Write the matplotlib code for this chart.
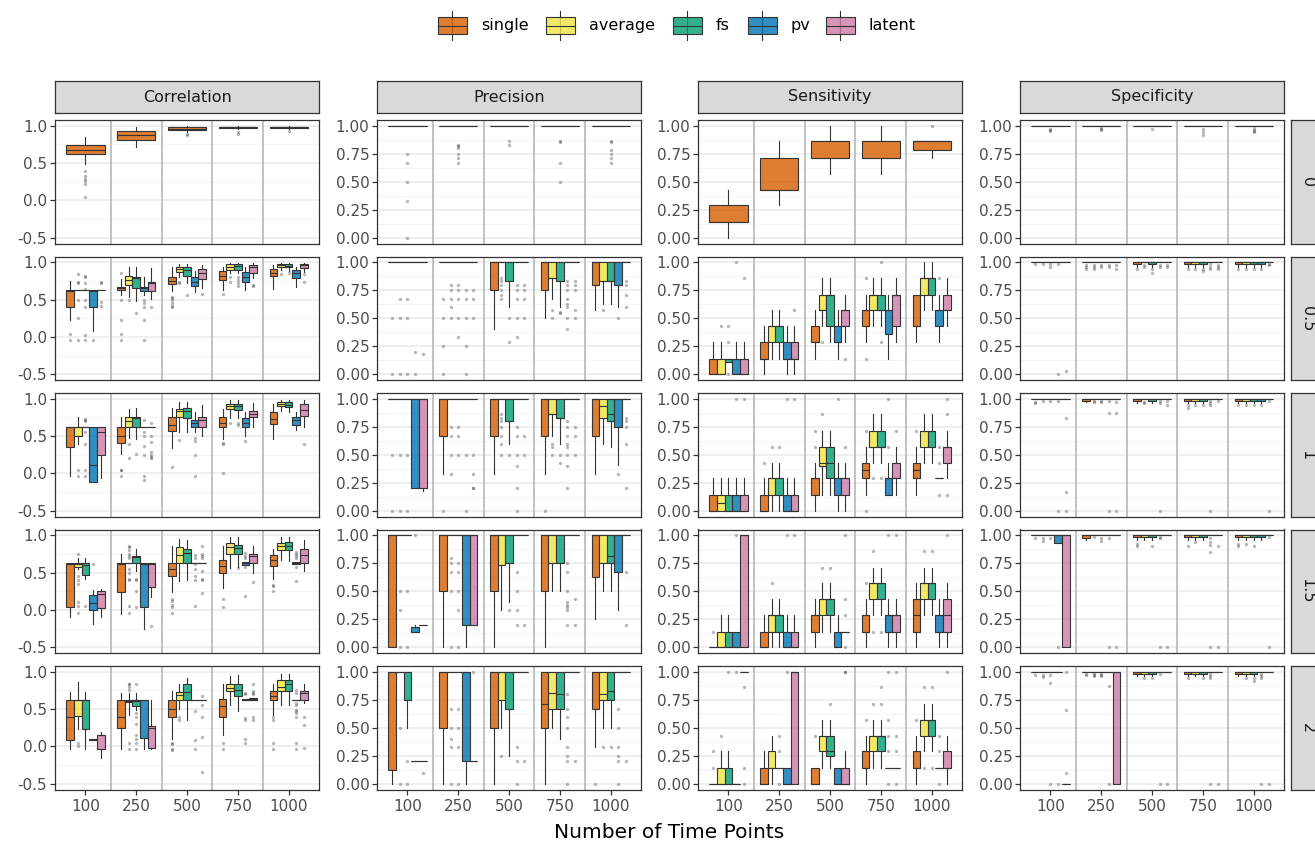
import matplotlib.pyplot as plt
from matplotlib.colors import to_rgba
from matplotlib.patches import Rectangle

# ---- data: (whisker low, q1, median, q3, whisker high, outliers) per time point ----
metrics = ["Correlation", "Precision", "Sensitivity", "Specificity"]
noise_levels = ["0", "0.5", "1", "1.5", "2"]
time_points = ["100", "250", "500", "750", "1000"]
methods = ["single", "average", "fs", "pv", "latent"]
method_colors = ["#D55E00", "#F0E442", "#009E73", "#0072B2", "#CC79A7"]

corr_0 = {
    "single": [(0.49, 0.62, 0.68, 0.74, 0.85, [0.40, 0.33, 0.29, 0.26, 0.22, 0.04]),
               (0.71, 0.81, 0.87, 0.925, 0.98, []),
               (0.91, 0.935, 0.96, 0.978, 0.99, [0.89, 0.88]),
               (0.95, 0.965, 0.975, 0.985, 0.995, [0.92, 0.89]),
               (0.955, 0.97, 0.978, 0.985, 0.995, [0.93])],
}
corr_05 = {
    "single": [(0.23, 0.40, 0.62, 0.625, 0.75, [0.04, -0.04]),
               (0.56, 0.625, 0.65, 0.668, 0.78, [0.86, 0.50, 0.22, 0.04, -0.04]),
               (0.62, 0.71, 0.75, 0.80, 0.93, [0.53, 0.52, 0.50, 0.45, 0.42, 0.40]),
               (0.63, 0.765, 0.82, 0.876, 0.93, [0.58]),
               (0.64, 0.81, 0.86, 0.91, 0.96, [])],
    "average": [(0.625, 0.625, 0.625, 0.625, 0.625, [0.84, 0.74, 0.72, 0.50, 0.25, -0.04]),
                (0.535, 0.70, 0.76, 0.81, 0.93, [0.50]),
                (0.80, 0.87, 0.91, 0.94, 0.98, [0.74, 0.72]),
                (0.85, 0.90, 0.94, 0.97, 0.99, [0.80, 0.73]),
                (0.89, 0.93, 0.955, 0.98, 0.99, [0.84])],
    "fs": [(0.625, 0.625, 0.625, 0.625, 0.625, [0.81, 0.80, 0.72, 0.64, 0.50, 0.40, 0.02, -0.04]),
           (0.48, 0.66, 0.79, 0.80, 0.93, [0.32]),
           (0.72, 0.82, 0.89, 0.93, 0.98, [0.56]),
           (0.85, 0.90, 0.945, 0.97, 0.99, [0.80, 0.76, 0.72, 0.68]),
           (0.88, 0.93, 0.95, 0.975, 0.99, [0.86])],
    "pv": [(0.08, 0.40, 0.62, 0.625, 0.625, [-0.04]),
           (0.56, 0.62, 0.65, 0.67, 0.80, [0.50, 0.45, 0.40, 0.22, -0.04]),
           (0.60, 0.68, 0.73, 0.80, 0.88, []),
           (0.63, 0.73, 0.80, 0.87, 0.94, []),
           (0.67, 0.79, 0.85, 0.90, 0.94, [])],
    "latent": [(0.625, 0.625, 0.625, 0.625, 0.625, [0.74, 0.72, 0.47, 0.42]),
               (0.51, 0.62, 0.72, 0.74, 0.92, [0.40]),
               (0.65, 0.78, 0.85, 0.91, 0.96, [0.57]),
               (0.79, 0.86, 0.94, 0.955, 0.99, [0.70, 0.68]),
               (0.87, 0.92, 0.96, 0.97, 0.99, [0.84, 0.73])],
}
corr_1 = {
    "single": [(-0.03, 0.36, 0.62, 0.625, 0.625, []),
               (0.26, 0.41, 0.50, 0.625, 0.75, [0.05, 0.04, -0.04]),
               (0.34, 0.57, 0.65, 0.75, 0.87, [0.09]),
               (0.46, 0.625, 0.67, 0.75, 0.86, [0.41, 0.40, 0.0]),
               (0.46, 0.66, 0.73, 0.82, 0.93, [])],
    "average": [(0.40, 0.50, 0.62, 0.625, 0.75, [0.05, -0.04]),
                (0.47, 0.625, 0.70, 0.75, 0.86, [0.40, 0.20]),
                (0.56, 0.75, 0.83, 0.86, 0.96, [0.45]),
                (0.74, 0.86, 0.90, 0.93, 0.98, [0.68]),
                (0.83, 0.90, 0.925, 0.95, 0.98, [])],
    "fs": [(0.625, 0.625, 0.625, 0.625, 0.625, [0.73, 0.72, 0.70, 0.55, 0.40, 0.05, -0.04]),
           (0.46, 0.625, 0.74, 0.75, 0.88, [0.26]),
           (0.56, 0.735, 0.84, 0.87, 0.96, []),
           (0.74, 0.845, 0.90, 0.93, 0.98, [0.68, 0.65]),
           (0.82, 0.89, 0.915, 0.95, 0.98, [])],
    "pv": [(-0.11, -0.11, 0.115, 0.625, 0.625, []),
           (0.625, 0.625, 0.625, 0.625, 0.625, [0.72, 0.55, 0.50, 0.37, 0.24, -0.04, -0.09]),
           (0.55, 0.625, 0.68, 0.72, 0.82, [0.47, 0.44, 0.25, -0.04]),
           (0.50, 0.625, 0.68, 0.735, 0.82, [0.43]),
           (0.58, 0.65, 0.72, 0.76, 0.82, [])],
    "latent": [(-0.06, 0.24, 0.56, 0.625, 0.625, []),
               (0.625, 0.625, 0.625, 0.625, 0.625, [0.67, 0.50, 0.42, 0.29, 0.25, 0.22, 0.21]),
               (0.50, 0.625, 0.71, 0.76, 0.91, []),
               (0.62, 0.75, 0.79, 0.84, 0.94, []),
               (0.62, 0.77, 0.85, 0.93, 0.98, [0.40])],
}
corr_15 = {
    "single": [(-0.09, 0.035, 0.62, 0.625, 0.625, []),
               (-0.06, 0.245, 0.62, 0.625, 0.75, []),
               (0.24, 0.45, 0.55, 0.625, 0.86, [0.15, 0.12, 0.06, 0.04, -0.04]),
               (0.29, 0.49, 0.59, 0.665, 0.86, [0.14, 0.04]),
               (0.42, 0.59, 0.67, 0.735, 0.81, [0.33, 0.32, 0.26])],
    "average": [(0.55, 0.58, 0.62, 0.625, 0.70, [0.75, 0.45, 0.40, 0.35, 0.10, 0.05, -0.04]),
                (0.625, 0.625, 0.625, 0.625, 0.625, [0.86, 0.84, 0.80, 0.75, 0.72, 0.70, 0.55, 0.50, 0.42, 0.40, 0.05, -0.04]),
                (0.39, 0.625, 0.73, 0.835, 0.95, []),
                (0.56, 0.75, 0.84, 0.89, 0.97, []),
                (0.67, 0.80, 0.86, 0.90, 0.97, [])],
    "fs": [(0.41, 0.47, 0.60, 0.625, 0.70, [0.05]),
           (0.52, 0.625, 0.71, 0.72, 0.82, [0.42, 0.40, 0.26, 0.04]),
           (0.40, 0.625, 0.76, 0.81, 0.94, []),
           (0.57, 0.75, 0.83, 0.87, 0.97, [0.56]),
           (0.66, 0.80, 0.86, 0.91, 0.98, [])],
    "pv": [(-0.19, 0.0, 0.09, 0.205, 0.27, [0.62]),
           (-0.25, 0.035, 0.62, 0.625, 0.625, []),
           (0.625, 0.625, 0.625, 0.625, 0.625, [0.74, 0.70, 0.62, 0.55, 0.45, 0.40, 0.05]),
           (0.60, 0.60, 0.625, 0.64, 0.64, [0.76, 0.72, 0.70, 0.58, 0.18]),
           (0.61, 0.61, 0.625, 0.64, 0.64, [0.78, 0.75, 0.72, 0.70, 0.58, 0.39])],
    "latent": [(-0.10, 0.03, 0.21, 0.26, 0.28, []),
               (0.17, 0.31, 0.62, 0.625, 0.625, [-0.22]),
               (0.625, 0.625, 0.625, 0.625, 0.625, [0.86, 0.75, 0.72, 0.70, 0.52, 0.42, 0.40, 0.22]),
               (0.50, 0.625, 0.72, 0.75, 0.86, [0.38]),
               (0.52, 0.625, 0.74, 0.82, 0.93, [])],
}
corr_2 = {
    "single": [(-0.03, 0.09, 0.40, 0.625, 0.73, []),
               (-0.03, 0.25, 0.40, 0.625, 0.72, []),
               (0.10, 0.40, 0.50, 0.625, 0.745, [0.04, 0.03, -0.04, -0.05]),
               (0.15, 0.40, 0.54, 0.63, 0.84, [0.04, -0.04]),
               (0.42, 0.625, 0.68, 0.745, 0.83, [0.40, 0.36, 0.04, -0.04])],
    "average": [(0.23, 0.41, 0.62, 0.625, 0.86, [0.04, 0.0]),
                (0.42, 0.59, 0.61, 0.625, 0.72, [0.84, 0.83, 0.80, 0.75, 0.05, -0.04]),
                (0.50, 0.625, 0.69, 0.73, 0.84, [0.40, 0.36]),
                (0.55, 0.735, 0.78, 0.84, 0.94, []),
                (0.55, 0.745, 0.80, 0.885, 0.97, [])],
    "fs": [(-0.03, 0.235, 0.62, 0.625, 0.73, []),
           (0.49, 0.535, 0.61, 0.625, 0.72, [0.84, 0.45, 0.40, 0.30, 0.15, 0.10, 0.05, -0.04]),
           (0.36, 0.625, 0.73, 0.84, 0.91, []),
           (0.47, 0.68, 0.75, 0.84, 0.95, []),
           (0.56, 0.745, 0.83, 0.89, 0.97, [])],
    "pv": [(0.09, 0.09, 0.10, 0.10, 0.10, []),
           (-0.03, 0.115, 0.62, 0.625, 0.625, []),
           (0.625, 0.625, 0.625, 0.625, 0.625, [0.47, 0.08, -0.04]),
           (0.62, 0.62, 0.625, 0.64, 0.64, [0.72, 0.70, 0.38, 0.35, 0.10, 0.05]),
           (0.625, 0.625, 0.625, 0.625, 0.625, [0.75, 0.72, 0.58, 0.55, 0.49, 0.47, 0.45, 0.40, 0.05, -0.04])],
    "latent": [(-0.16, -0.04, 0.15, 0.155, 0.19, []),
               (-0.03, -0.02, 0.24, 0.27, 0.625, []),
               (0.625, 0.625, 0.625, 0.625, 0.625, [0.68, 0.55, 0.40, 0.12, -0.34]),
               (0.625, 0.625, 0.63, 0.645, 0.645, [0.84, 0.74, 0.72, 0.70, 0.40, 0.36]),
               (0.58, 0.625, 0.72, 0.745, 0.84, [0.40, 0.29, -0.02])],
}

prec_0 = {
    "single": [(1, 1, 1, 1, 1, [0.75, 0.67, 0.50, 0.33, 0.0]),
               (1, 1, 1, 1, 1, [0.83, 0.82, 0.80, 0.75, 0.71, 0.67]),
               (1, 1, 1, 1, 1, [0.86, 0.83]),
               (1, 1, 1, 1, 1, [0.86, 0.85, 0.67, 0.50]),
               (1, 1, 1, 1, 1, [0.86, 0.85, 0.78, 0.75, 0.71, 0.67])],
}
prec_05 = {
    "single": [(1, 1, 1, 1, 1, [0.50, 0.0]),
               (1, 1, 1, 1, 1, [0.67, 0.50, 0.25, 0.0]),
               (0.40, 0.75, 1, 1, 1, []),
               (0.50, 0.75, 1, 1, 1, []),
               (0.57, 0.80, 1, 1, 1, [])],
    "average": [(1, 1, 1, 1, 1, [0.67, 0.50, 0.0]),
                (1, 1, 1, 1, 1, [0.80, 0.75, 0.67, 0.60, 0.50]),
                (1, 1, 1, 1, 1, [0.86, 0.83, 0.80, 0.75, 0.71, 0.67]),
                (0.67, 0.86, 0.86, 1, 1, [0.57, 0.50]),
                (0.63, 0.83, 0.83, 1, 1, [0.57])],
    "fs": [(1, 1, 1, 1, 1, [0.67, 0.50, 0.0]),
           (1, 1, 1, 1, 1, [0.80, 0.75, 0.67, 0.50, 0.33]),
           (0.60, 0.83, 1, 1, 1, [0.50, 0.29]),
           (0.60, 0.83, 0.83, 1, 1, [0.56, 0.55]),
           (0.63, 0.83, 0.83, 1, 1, [])],
    "pv": [(1, 1, 1, 1, 1, [0.20, 0.0]),
           (1, 1, 1, 1, 1, [0.75, 0.67, 0.50, 0.25, 0.0]),
           (1, 1, 1, 1, 1, [0.80, 0.75, 0.67, 0.50, 0.33]),
           (1, 1, 1, 1, 1, [0.83, 0.80, 0.75, 0.67, 0.63, 0.60, 0.50, 0.40]),
           (0.60, 0.80, 1, 1, 1, [0.50])],
    "latent": [(1, 1, 1, 1, 1, [0.18]),
               (1, 1, 1, 1, 1, [0.75, 0.67, 0.50]),
               (1, 1, 1, 1, 1, [0.80, 0.75, 0.67, 0.50]),
               (1, 1, 1, 1, 1, [0.83, 0.80, 0.75, 0.57, 0.50]),
               (1, 1, 1, 1, 1, [0.83, 0.80, 0.71, 0.60])],
}
prec_1 = {
    "single": [(1, 1, 1, 1, 1, [0.50, 0.0]),
               (0.33, 0.67, 1, 1, 1, [0.0]),
               (0.33, 0.67, 1, 1, 1, []),
               (0.33, 0.67, 1, 1, 1, [0.0]),
               (0.33, 0.67, 1, 1, 1, [])],
    "average": [(1, 1, 1, 1, 1, [0.50, 0.0]),
                (1, 1, 1, 1, 1, [0.75, 0.67, 0.50, 0.33]),
                (1, 1, 1, 1, 1, [0.86, 0.83, 0.80, 0.75, 0.67, 0.60, 0.50]),
                (0.67, 0.86, 0.86, 1, 1, [0.60, 0.57, 0.50]),
                (0.60, 0.83, 0.93, 1, 1, [])],
    "fs": [(1, 1, 1, 1, 1, [0.50, 0.0]),
           (1, 1, 1, 1, 1, [0.75, 0.67, 0.50]),
           (0.60, 0.80, 1, 1, 1, [0.50]),
           (0.60, 0.83, 0.83, 1, 1, [0.50, 0.43]),
           (0.57, 0.80, 0.86, 1, 1, [])],
    "pv": [(0.20, 0.20, 1, 1, 1, []),
           (1, 1, 1, 1, 1, [0.50, 0.0]),
           (1, 1, 1, 1, 1, [0.75, 0.67, 0.50, 0.40, 0.20, 0.0]),
           (1, 1, 1, 1, 1, [0.80, 0.75, 0.67, 0.60, 0.57, 0.50, 0.40, 0.20]),
           (0.41, 0.75, 1, 1, 1, [0.33])],
    "latent": [(0.18, 0.20, 1, 1, 1, []),
               (1, 1, 1, 1, 1, [0.50, 0.33, 0.20, 0.20]),
               (1, 1, 1, 1, 1, [0.67, 0.50]),
               (1, 1, 1, 1, 1, [0.75, 0.67, 0.50]),
               (1, 1, 1, 1, 1, [0.83, 0.80, 0.75, 0.60, 0.20])],
}
prec_15 = {
    "single": [(0, 0, 1, 1, 1, []),
               (0, 0.50, 1, 1, 1, []),
               (0, 0.50, 1, 1, 1, []),
               (0, 0.50, 1, 1, 1, []),
               (0.25, 0.63, 1, 1, 1, [])],
    "average": [(1, 1, 1, 1, 1, [0.50, 0.33, 0.0]),
                (1, 1, 1, 1, 1, [0.80, 0.75, 0.67, 0.50, 0.0]),
                (0.33, 0.73, 1, 1, 1, []),
                (0.50, 0.75, 1, 1, 1, []),
                (0.50, 0.75, 1, 1, 1, [])],
    "fs": [(1, 1, 1, 1, 1, [0.50, 0.0]),
           (1, 1, 1, 1, 1, [0.75, 0.67, 0.50, 0.33, 0.0]),
           (0.40, 0.75, 1, 1, 1, [0.33]),
           (0.50, 0.75, 1, 1, 1, []),
           (0.50, 0.75, 0.81, 1, 1, [])],
    "pv": [(0.14, 0.14, 0.18, 0.18, 0.20, [1.0]),
           (0, 0.20, 1, 1, 1, []),
           (1, 1, 1, 1, 1, [0.67, 0.50, 0.33, 0.20]),
           (1, 1, 1, 1, 1, [0.75, 0.67, 0.50, 0.40, 0.38, 0.36, 0.33, 0.20]),
           (0.33, 0.67, 1, 1, 1, [])],
    "latent": [(0.20, 0.20, 0.20, 0.20, 0.20, []),
               (0.20, 0.20, 1, 1, 1, []),
               (1, 1, 1, 1, 1, [0.20]),
               (1, 1, 1, 1, 1, [0.43, 0.20]),
               (1, 1, 1, 1, 1, [0.67, 0.20])],
}
prec_2 = {
    "single": [(0, 0.12, 1, 1, 1, []),
               (0, 0.50, 1, 1, 1, []),
               (0, 0.50, 1, 1, 1, []),
               (0, 0.50, 0.71, 1, 1, []),
               (0.33, 0.67, 1, 1, 1, [0.0])],
    "average": [(1, 1, 1, 1, 1, [0.50, 0.0]),
                (1, 1, 1, 1, 1, [0.67, 0.50, 0.40, 0.33, 0.0]),
                (0.50, 0.75, 1, 1, 1, [0.25]),
                (0.50, 0.67, 0.81, 1, 1, []),
                (0.50, 0.75, 0.80, 1, 1, [0.33])],
    "fs": [(0.50, 0.75, 1, 1, 1, [0.20, 0.0]),
           (1, 1, 1, 1, 1, [0.67, 0.50, 0.33, 0.0]),
           (0.25, 0.67, 1, 1, 1, []),
           (0.40, 0.67, 0.80, 1, 1, []),
           (0.50, 0.75, 0.83, 1, 1, [0.33])],
    "pv": [(0.20, 0.20, 0.20, 0.20, 0.20, []),
           (0, 0.20, 1, 1, 1, []),
           (1, 1, 1, 1, 1, [0.33, 0.20, 0.0]),
           (1, 1, 1, 1, 1, [0.80, 0.67, 0.60, 0.50, 0.33, 0.25, 0.20, 0.0]),
           (1, 1, 1, 1, 1, [0.67, 0.50, 0.33, 0.25, 0.20, 0.0])],
    "latent": [(0.20, 0.20, 0.20, 0.20, 0.20, [0.10]),
               (0.20, 0.20, 0.20, 0.20, 0.20, [1.0]),
               (1, 1, 1, 1, 1, [0.20]),
               (1, 1, 1, 1, 1, [0.20]),
               (1, 1, 1, 1, 1, [0.20])],
}

sens_0 = {
    "single": [(0, 0.14, 0.14, 0.29, 0.43, []),
               (0.29, 0.43, 0.43, 0.71, 0.86, []),
               (0.57, 0.71, 0.71, 0.86, 1.0, []),
               (0.57, 0.71, 0.71, 0.86, 1.0, []),
               (0.71, 0.78, 0.86, 0.86, 0.86, [1.0])],
}
sens_05 = {
    "single": [(0, 0, 0, 0.14, 0.29, []),
               (0, 0.14, 0.14, 0.29, 0.43, []),
               (0.14, 0.29, 0.29, 0.43, 0.57, []),
               (0.29, 0.43, 0.57, 0.57, 0.71, [0.86, 0.14]),
               (0.29, 0.43, 0.43, 0.71, 0.71, [])],
    "average": [(0, 0, 0, 0.14, 0.29, [0.43]),
                (0.14, 0.29, 0.43, 0.43, 0.57, []),
                (0.43, 0.57, 0.57, 0.71, 0.86, [0.29]),
                (0.43, 0.57, 0.71, 0.71, 0.86, []),
                (0.57, 0.71, 0.86, 0.86, 1.0, [])],
    "fs": [(0.11, 0.11, 0.14, 0.14, 0.14, [0.43, 0.29, 0.0]),
           (0.14, 0.29, 0.43, 0.43, 0.57, []),
           (0.29, 0.43, 0.71, 0.71, 0.86, []),
           (0.43, 0.57, 0.57, 0.71, 0.86, [1.0, 0.29]),
           (0.57, 0.71, 0.86, 0.86, 1.0, [])],
    "pv": [(0, 0, 0, 0.14, 0.29, [1.0]),
           (0, 0.14, 0.14, 0.29, 0.43, []),
           (0.14, 0.29, 0.29, 0.43, 0.57, []),
           (0.14, 0.36, 0.57, 0.57, 0.71, []),
           (0.29, 0.43, 0.57, 0.57, 0.71, [0.86])],
    "latent": [(0, 0, 0, 0.14, 0.29, [0.86]),
               (0, 0.14, 0.14, 0.29, 0.43, [0.57]),
               (0.29, 0.43, 0.57, 0.57, 0.71, [0.14]),
               (0.29, 0.43, 0.71, 0.71, 0.86, []),
               (0.43, 0.57, 0.57, 0.71, 0.86, [])],
}
sens_1 = {
    "single": [(0, 0, 0, 0.14, 0.29, []),
               (0, 0, 0, 0.14, 0.29, [0.43]),
               (0, 0.14, 0.29, 0.29, 0.43, [0.71, 0.57]),
               (0.14, 0.29, 0.36, 0.43, 0.57, [0.71, 0.0]),
               (0.14, 0.29, 0.36, 0.43, 0.57, [0.71])],
    "average": [(0, 0, 0.07, 0.14, 0.29, []),
                (0, 0.14, 0.29, 0.29, 0.43, [0.57]),
                (0.14, 0.40, 0.43, 0.57, 0.71, [0.86]),
                (0.43, 0.57, 0.57, 0.71, 0.86, [0.29]),
                (0.43, 0.57, 0.71, 0.71, 0.86, [])],
    "fs": [(0, 0, 0, 0.14, 0.29, []),
           (0, 0.14, 0.29, 0.29, 0.43, [0.57]),
           (0.14, 0.29, 0.43, 0.57, 0.71, []),
           (0.43, 0.57, 0.57, 0.71, 0.86, [0.29]),
           (0.43, 0.57, 0.71, 0.71, 0.86, [])],
    "pv": [(0, 0, 0, 0.14, 0.29, [1.0]),
           (0, 0, 0, 0.14, 0.29, [1.0]),
           (0, 0.14, 0.29, 0.29, 0.43, [1.0]),
           (0.14, 0.14, 0.29, 0.29, 0.43, [0.57, 1.0]),
           (0.29, 0.29, 0.29, 0.29, 0.29, [0.57, 0.43, 0.14])],
    "latent": [(0, 0, 0, 0.14, 0.29, [1.0]),
               (0, 0, 0, 0.14, 0.29, [1.0]),
               (0, 0.14, 0.29, 0.29, 0.43, [0.57]),
               (0.14, 0.29, 0.29, 0.43, 0.57, [0.71]),
               (0.29, 0.43, 0.57, 0.57, 0.71, [1.0, 0.86, 0.14])],
}
sens_15 = {
    "single": [(0, 0, 0, 0, 0, [0.14]),
               (0, 0, 0, 0.14, 0.29, []),
               (0, 0.14, 0.29, 0.29, 0.43, []),
               (0, 0.14, 0.29, 0.29, 0.43, [0.57]),
               (0, 0.14, 0.29, 0.43, 0.57, [])],
    "average": [(0, 0, 0, 0.14, 0.29, []),
                (0, 0.14, 0.29, 0.29, 0.43, [0.57]),
                (0.14, 0.29, 0.43, 0.43, 0.57, [0.71]),
                (0.29, 0.43, 0.57, 0.57, 0.71, [0.86, 0.14]),
                (0.29, 0.43, 0.57, 0.57, 0.71, [0.86])],
    "fs": [(0, 0, 0, 0.14, 0.29, []),
           (0, 0.14, 0.29, 0.29, 0.43, []),
           (0.14, 0.29, 0.43, 0.43, 0.57, [0.71]),
           (0.29, 0.43, 0.57, 0.57, 0.71, [0.14]),
           (0.29, 0.43, 0.57, 0.57, 0.71, [0.86])],
    "pv": [(0, 0, 0, 0.14, 0.14, [1.0]),
           (0, 0, 0, 0.14, 0.29, [1.0]),
           (0, 0, 0, 0.14, 0.29, []),
           (0, 0.14, 0.29, 0.29, 0.43, [1.0]),
           (0, 0.14, 0.29, 0.29, 0.43, [])],
    "latent": [(0, 0, 1.0, 1.0, 1.0, []),
               (0, 0, 0, 0.14, 0.29, [1.0]),
               (0.14, 0.14, 0.14, 0.14, 0.14, [1.0, 0.43, 0.29, 0.0]),
               (0, 0.14, 0.29, 0.29, 0.43, [1.0]),
               (0, 0.14, 0.29, 0.43, 0.57, [1.0])],
}
sens_2 = {
    "single": [(0, 0, 0, 0, 0, [0.29, 0.14]),
               (0, 0, 0, 0.14, 0.29, []),
               (0, 0, 0, 0.14, 0.14, [0.43]),
               (0, 0.14, 0.29, 0.29, 0.43, [0.57]),
               (0, 0.14, 0.14, 0.29, 0.43, [0.57])],
    "average": [(0, 0, 0, 0.14, 0.29, [0.43]),
                (0, 0.14, 0.14, 0.29, 0.43, []),
                (0.14, 0.29, 0.43, 0.43, 0.57, []),
                (0.14, 0.29, 0.43, 0.43, 0.57, [0.71]),
                (0.29, 0.43, 0.57, 0.57, 0.71, [0.86, 0.14])],
    "fs": [(0, 0, 0, 0.14, 0.29, [1.0]),
           (0.14, 0.14, 0.14, 0.14, 0.14, [0.43, 0.29, 0.0]),
           (0.14, 0.25, 0.29, 0.43, 0.57, [0.71]),
           (0.14, 0.29, 0.43, 0.43, 0.57, [0.86, 0.71]),
           (0.29, 0.43, 0.57, 0.57, 0.71, [0.86, 0.14])],
    "pv": [(0, 0, 0, 0, 0, [1.0]),
           (0, 0, 0, 0.14, 0.14, [1.0]),
           (0, 0, 0, 0.14, 0.14, []),
           (0.14, 0.14, 0.14, 0.14, 0.14, [1.0, 0.57, 0.43, 0.29, 0.0]),
           (0.14, 0.14, 0.14, 0.14, 0.14, [0.43, 0.29, 0.0])],
    "latent": [(1.0, 1.0, 1.0, 1.0, 1.0, [0.86, 0.14, 0.0]),
               (0, 0, 1.0, 1.0, 1.0, []),
               (0, 0, 0, 0.14, 0.29, [1.0, 1.0]),
               (0.14, 0.14, 0.14, 0.14, 0.14, [1.0, 0.43, 0.29, 0.0]),
               (0, 0.14, 0.14, 0.29, 0.43, [1.0])],
}

spec_0 = {
    "single": [(1, 1, 1, 1, 1, [0.97, 0.96, 0.95]),
               (1, 1, 1, 1, 1, [0.98, 0.97, 0.96]),
               (1, 1, 1, 1, 1, [0.97]),
               (1, 1, 1, 1, 1, [0.97, 0.94, 0.92]),
               (1, 1, 1, 1, 1, [0.98, 0.96, 0.95, 0.94])],
}
spec_05 = {
    "single": [(1, 1, 1, 1, 1, [0.98]),
               (1, 1, 1, 1, 1, [0.97, 0.96, 0.94]),
               (0.96, 0.98, 1, 1, 1, [0.94]),
               (0.96, 0.98, 1, 1, 1, [0.94]),
               (0.96, 0.98, 1, 1, 1, [0.94])],
    "average": [(1, 1, 1, 1, 1, [0.98]),
                (1, 1, 1, 1, 1, [0.97, 0.96, 0.94]),
                (1, 1, 1, 1, 1, [0.97, 0.96]),
                (0.96, 0.98, 1, 1, 1, [0.94]),
                (0.96, 0.98, 1, 1, 1, [0.94])],
    "fs": [(1, 1, 1, 1, 1, [0.98, 0.96]),
           (1, 1, 1, 1, 1, [0.97, 0.96]),
           (0.96, 0.98, 1, 1, 1, [0.94, 0.90]),
           (0.96, 0.98, 1, 1, 1, [0.94, 0.92]),
           (0.96, 0.98, 1, 1, 1, [0.94])],
    "pv": [(1, 1, 1, 1, 1, [0.98, 0.0]),
           (1, 1, 1, 1, 1, [0.97, 0.96]),
           (1, 1, 1, 1, 1, [0.97, 0.96]),
           (1, 1, 1, 1, 1, [0.98, 0.96, 0.94]),
           (0.96, 0.98, 1, 1, 1, [0.94])],
    "latent": [(1, 1, 1, 1, 1, [0.03]),
               (1, 1, 1, 1, 1, [0.97, 0.94]),
               (1, 1, 1, 1, 1, [0.97, 0.96]),
               (1, 1, 1, 1, 1, [0.97, 0.96, 0.94]),
               (1, 1, 1, 1, 1, [0.98, 0.97])],
}
spec_1 = {
    "single": [(1, 1, 1, 1, 1, [0.97, 0.96]),
               (0.97, 0.98, 1, 1, 1, []),
               (0.96, 0.98, 1, 1, 1, []),
               (0.96, 0.98, 1, 1, 1, [0.94, 0.92]),
               (0.96, 0.98, 1, 1, 1, [0.94])],
    "average": [(1, 1, 1, 1, 1, [0.98]),
                (1, 1, 1, 1, 1, [0.98, 0.97]),
                (1, 1, 1, 1, 1, [0.97, 0.96]),
                (0.96, 0.98, 1, 1, 1, [0.94]),
                (0.96, 0.98, 1, 1, 1, [0.94])],
    "fs": [(1, 1, 1, 1, 1, [0.98]),
           (1, 1, 1, 1, 1, [0.98, 0.97]),
           (0.96, 0.98, 1, 1, 1, []),
           (0.96, 0.98, 1, 1, 1, [0.94]),
           (0.96, 0.98, 1, 1, 1, [0.94])],
    "pv": [(1, 1, 1, 1, 1, [0.98, 0.0]),
           (1, 1, 1, 1, 1, [0.98, 0.87, 0.0]),
           (1, 1, 1, 1, 1, [0.98, 0.96, 0.0]),
           (1, 1, 1, 1, 1, [0.98, 0.96, 0.94, 0.0]),
           (0.96, 0.98, 1, 1, 1, [0.94])],
    "latent": [(1, 1, 1, 1, 1, [0.83, 0.17, 0.0]),
               (1, 1, 1, 1, 1, [0.97, 0.87, 0.0]),
               (1, 1, 1, 1, 1, [0.98, 0.94]),
               (1, 1, 1, 1, 1, [0.98]),
               (1, 1, 1, 1, 1, [0.98, 0.0])],
}
spec_15 = {
    "single": [(1, 1, 1, 1, 1, [0.97]),
               (0.96, 0.97, 1, 1, 1, []),
               (0.96, 0.98, 1, 1, 1, [0.92, 0.90]),
               (0.96, 0.98, 1, 1, 1, [0.90]),
               (0.96, 0.98, 1, 1, 1, [0.92, 0.90])],
    "average": [(1, 1, 1, 1, 1, [0.97, 0.95]),
                (1, 1, 1, 1, 1, [0.98]),
                (0.96, 0.98, 1, 1, 1, []),
                (0.96, 0.98, 1, 1, 1, [0.94]),
                (0.96, 0.98, 1, 1, 1, [0.92])],
    "fs": [(1, 1, 1, 1, 1, [0.97]),
           (1, 1, 1, 1, 1, [0.97, 0.95]),
           (0.96, 0.98, 1, 1, 1, [0.90]),
           (0.96, 0.98, 1, 1, 1, []),
           (0.96, 0.98, 1, 1, 1, [0.90])],
    "pv": [(0.93, 0.93, 1, 1, 1, [0.0]),
           (1, 1, 1, 1, 1, [0.97, 0.0]),
           (1, 1, 1, 1, 1, [0.98, 0.97, 0.0]),
           (1, 1, 1, 1, 1, [0.97, 0.94, 0.91, 0.85, 0.0]),
           (0.96, 0.98, 1, 1, 1, [])],
    "latent": [(0, 0, 1, 1, 1, []),
               (1, 1, 1, 1, 1, [0.0]),
               (1, 1, 1, 1, 1, [0.0]),
               (1, 1, 1, 1, 1, [0.90, 0.0]),
               (1, 1, 1, 1, 1, [0.98, 0.0])],
}
spec_2 = {
    "single": [(1, 1, 1, 1, 1, [0.97]),
               (1, 1, 1, 1, 1, [0.98, 0.97]),
               (0.96, 0.98, 1, 1, 1, []),
               (0.96, 0.98, 1, 1, 1, [0.94]),
               (0.96, 0.98, 1, 1, 1, [])],
    "average": [(1, 1, 1, 1, 1, [0.97, 0.95]),
                (1, 1, 1, 1, 1, [0.98, 0.97, 0.96]),
                (0.96, 0.98, 1, 1, 1, [0.94]),
                (0.96, 0.98, 1, 1, 1, []),
                (0.96, 0.98, 1, 1, 1, [0.94])],
    "fs": [(1, 1, 1, 1, 1, [0.97, 0.90, 0.0]),
           (1, 1, 1, 1, 1, [0.98, 0.97, 0.96]),
           (0.96, 0.98, 1, 1, 1, [0.94]),
           (0.96, 0.98, 1, 1, 1, [0.94]),
           (0.96, 0.98, 1, 1, 1, [0.94, 0.92])],
    "pv": [(1, 1, 1, 1, 1, [0.0]),
           (1, 1, 1, 1, 1, [0.87, 0.0]),
           (1, 1, 1, 1, 1, [0.98, 0.0]),
           (1, 1, 1, 1, 1, [0.98, 0.96, 0.94, 0.0]),
           (1, 1, 1, 1, 1, [0.98, 0.96, 0.94, 0.0])],
    "latent": [(0, 0, 0, 0, 0, [1.0, 0.66, 0.10]),
               (0, 0, 1, 1, 1, []),
               (1, 1, 1, 1, 1, [0.0]),
               (1, 1, 1, 1, 1, [0.0]),
               (1, 1, 1, 1, 1, [0.0])],
}

panels = {
    "Correlation": [corr_0, corr_05, corr_1, corr_15, corr_2],
    "Precision": [prec_0, prec_05, prec_1, prec_15, prec_2],
    "Sensitivity": [sens_0, sens_05, sens_1, sens_15, sens_2],
    "Specificity": [spec_0, spec_05, spec_1, spec_15, spec_2],
}

# ---- layout (pixels) ----
W, H = 1315, 843
col_left = [55, 377, 698, 1020]
row_top = [120, 256.5, 393, 529.5, 666]
pw, ph = 264, 123.5
dark = "#333333"

plt.rcParams["font.family"] = "DejaVu Sans"
fig = plt.figure(figsize=(W / 100, H / 100), dpi=100)


def px_axes(x0, y0, w, h, **kw):
    return fig.add_axes([x0 / W, 1 - (y0 + h) / H, w / W, h / H], **kw)


def strip(x0, y0, w, h, label, rot=0):
    s = px_axes(x0, y0, w, h)
    s.set_xticks([])
    s.set_yticks([])
    s.set_facecolor("#D9D9D9")
    for sp in s.spines.values():
        sp.set_color(dark)
        sp.set_linewidth(0.9)
    s.text(0.5, 0.5, label, ha="center", va="center", rotation=rot,
           fontsize=11.5, color="#1A1A1A", transform=s.transAxes)


for ci, metric in enumerate(metrics):
    strip(col_left[ci], 81, pw, 32, metric)
    for ri, level in enumerate(noise_levels):
        ax = px_axes(col_left[ci], row_top[ri], pw, ph)
        data = panels[metric][ri]
        present = [m for m in methods if m in data]
        n = len(present)
        bw = 0.75 / n
        for k, m in enumerate(present):
            col = method_colors[methods.index(m)]
            offs = (k - (n - 1) / 2) * bw
            stats = [dict(whislo=b[0], q1=b[1], med=b[2], q3=b[3], whishi=b[4], fliers=b[5])
                     for b in data[m]]
            ax.bxp(stats, positions=[g + 1 + offs for g in range(5)], widths=bw,
                   patch_artist=True, showcaps=False, manage_ticks=False,
                   boxprops=dict(facecolor=to_rgba(col, 0.8), edgecolor=dark, linewidth=0.8),
                   medianprops=dict(color=dark, linewidth=0.8),
                   whiskerprops=dict(color=dark, linewidth=0.8),
                   flierprops=dict(marker="o", markersize=2.4, markerfacecolor=dark,
                                   markeredgecolor="none", alpha=0.35),
                   zorder=3)
        for xs in [1.5, 2.5, 3.5, 4.5]:
            ax.axvline(xs, color="#BDBDBD", linewidth=1.3, zorder=1)
        ax.set_xlim(0.4, 5.6)
        if metric == "Correlation":
            ax.set_ylim(-0.575, 1.075)
            ax.set_yticks([-0.5, 0, 0.5, 1.0])
            ax.set_yticklabels(["-0.5", "0.0", "0.5", "1.0"])
            ax.set_yticks([-0.25, 0.25, 0.75], minor=True)
        else:
            ax.set_ylim(-0.05, 1.05)
            ax.set_yticks([0, 0.25, 0.5, 0.75, 1.0])
            ax.set_yticklabels(["0.00", "0.25", "0.50", "0.75", "1.00"])
            ax.set_yticks([0.125, 0.375, 0.625, 0.875], minor=True)
        ax.grid(axis="y", which="major", color="#EBEBEB", linewidth=1.1, zorder=0)
        ax.grid(axis="y", which="minor", color="#F4F4F4", linewidth=0.6, zorder=0)
        ax.set_axisbelow(True)
        ax.tick_params(axis="y", which="major", length=3.5, width=0.9, color=dark,
                       labelsize=11, labelcolor="#4D4D4D", pad=2)
        ax.tick_params(axis="y", which="minor", length=0)
        ax.set_xticks(range(1, 6))
        if ri == len(noise_levels) - 1:
            ax.set_xticklabels(time_points)
            ax.tick_params(axis="x", length=3.5, width=0.9, color=dark,
                           labelsize=11, labelcolor="#4D4D4D", pad=3)
        else:
            ax.tick_params(axis="x", bottom=False, labelbottom=False)
        for sp in ax.spines.values():
            sp.set_color(dark)
            sp.set_linewidth(0.9)
        if ci == len(metrics) - 1:
            strip(1291, row_top[ri], 32, ph, level, rot=-90)

fig.text(669.5 / W, 1 - 832 / H, "Number of Time Points", ha="center", va="center",
         fontsize=14.5, color="black")

# ---- legend ----
leg = fig.add_axes([0, 0, 1, 1], zorder=5)
leg.set_xlim(0, W)
leg.set_ylim(H, 0)
leg.axis("off")
key_x = [438, 546, 673, 748, 826]
for kx, m, col in zip(key_x, methods, method_colors):
    leg.plot([kx + 14.5, kx + 14.5], [11, 40], color=dark, linewidth=0.8, zorder=1)
    leg.add_patch(Rectangle((kx, 17), 29, 17, facecolor=to_rgba(col, 0.8),
                            edgecolor=dark, linewidth=0.8, zorder=2))
    leg.plot([kx, kx + 29], [25.5, 25.5], color=dark, linewidth=0.8, zorder=3)
    leg.text(kx + 43, 25.5, m, ha="left", va="center", fontsize=11.5, color="black")

fig.savefig("out.png", dpi=100)
